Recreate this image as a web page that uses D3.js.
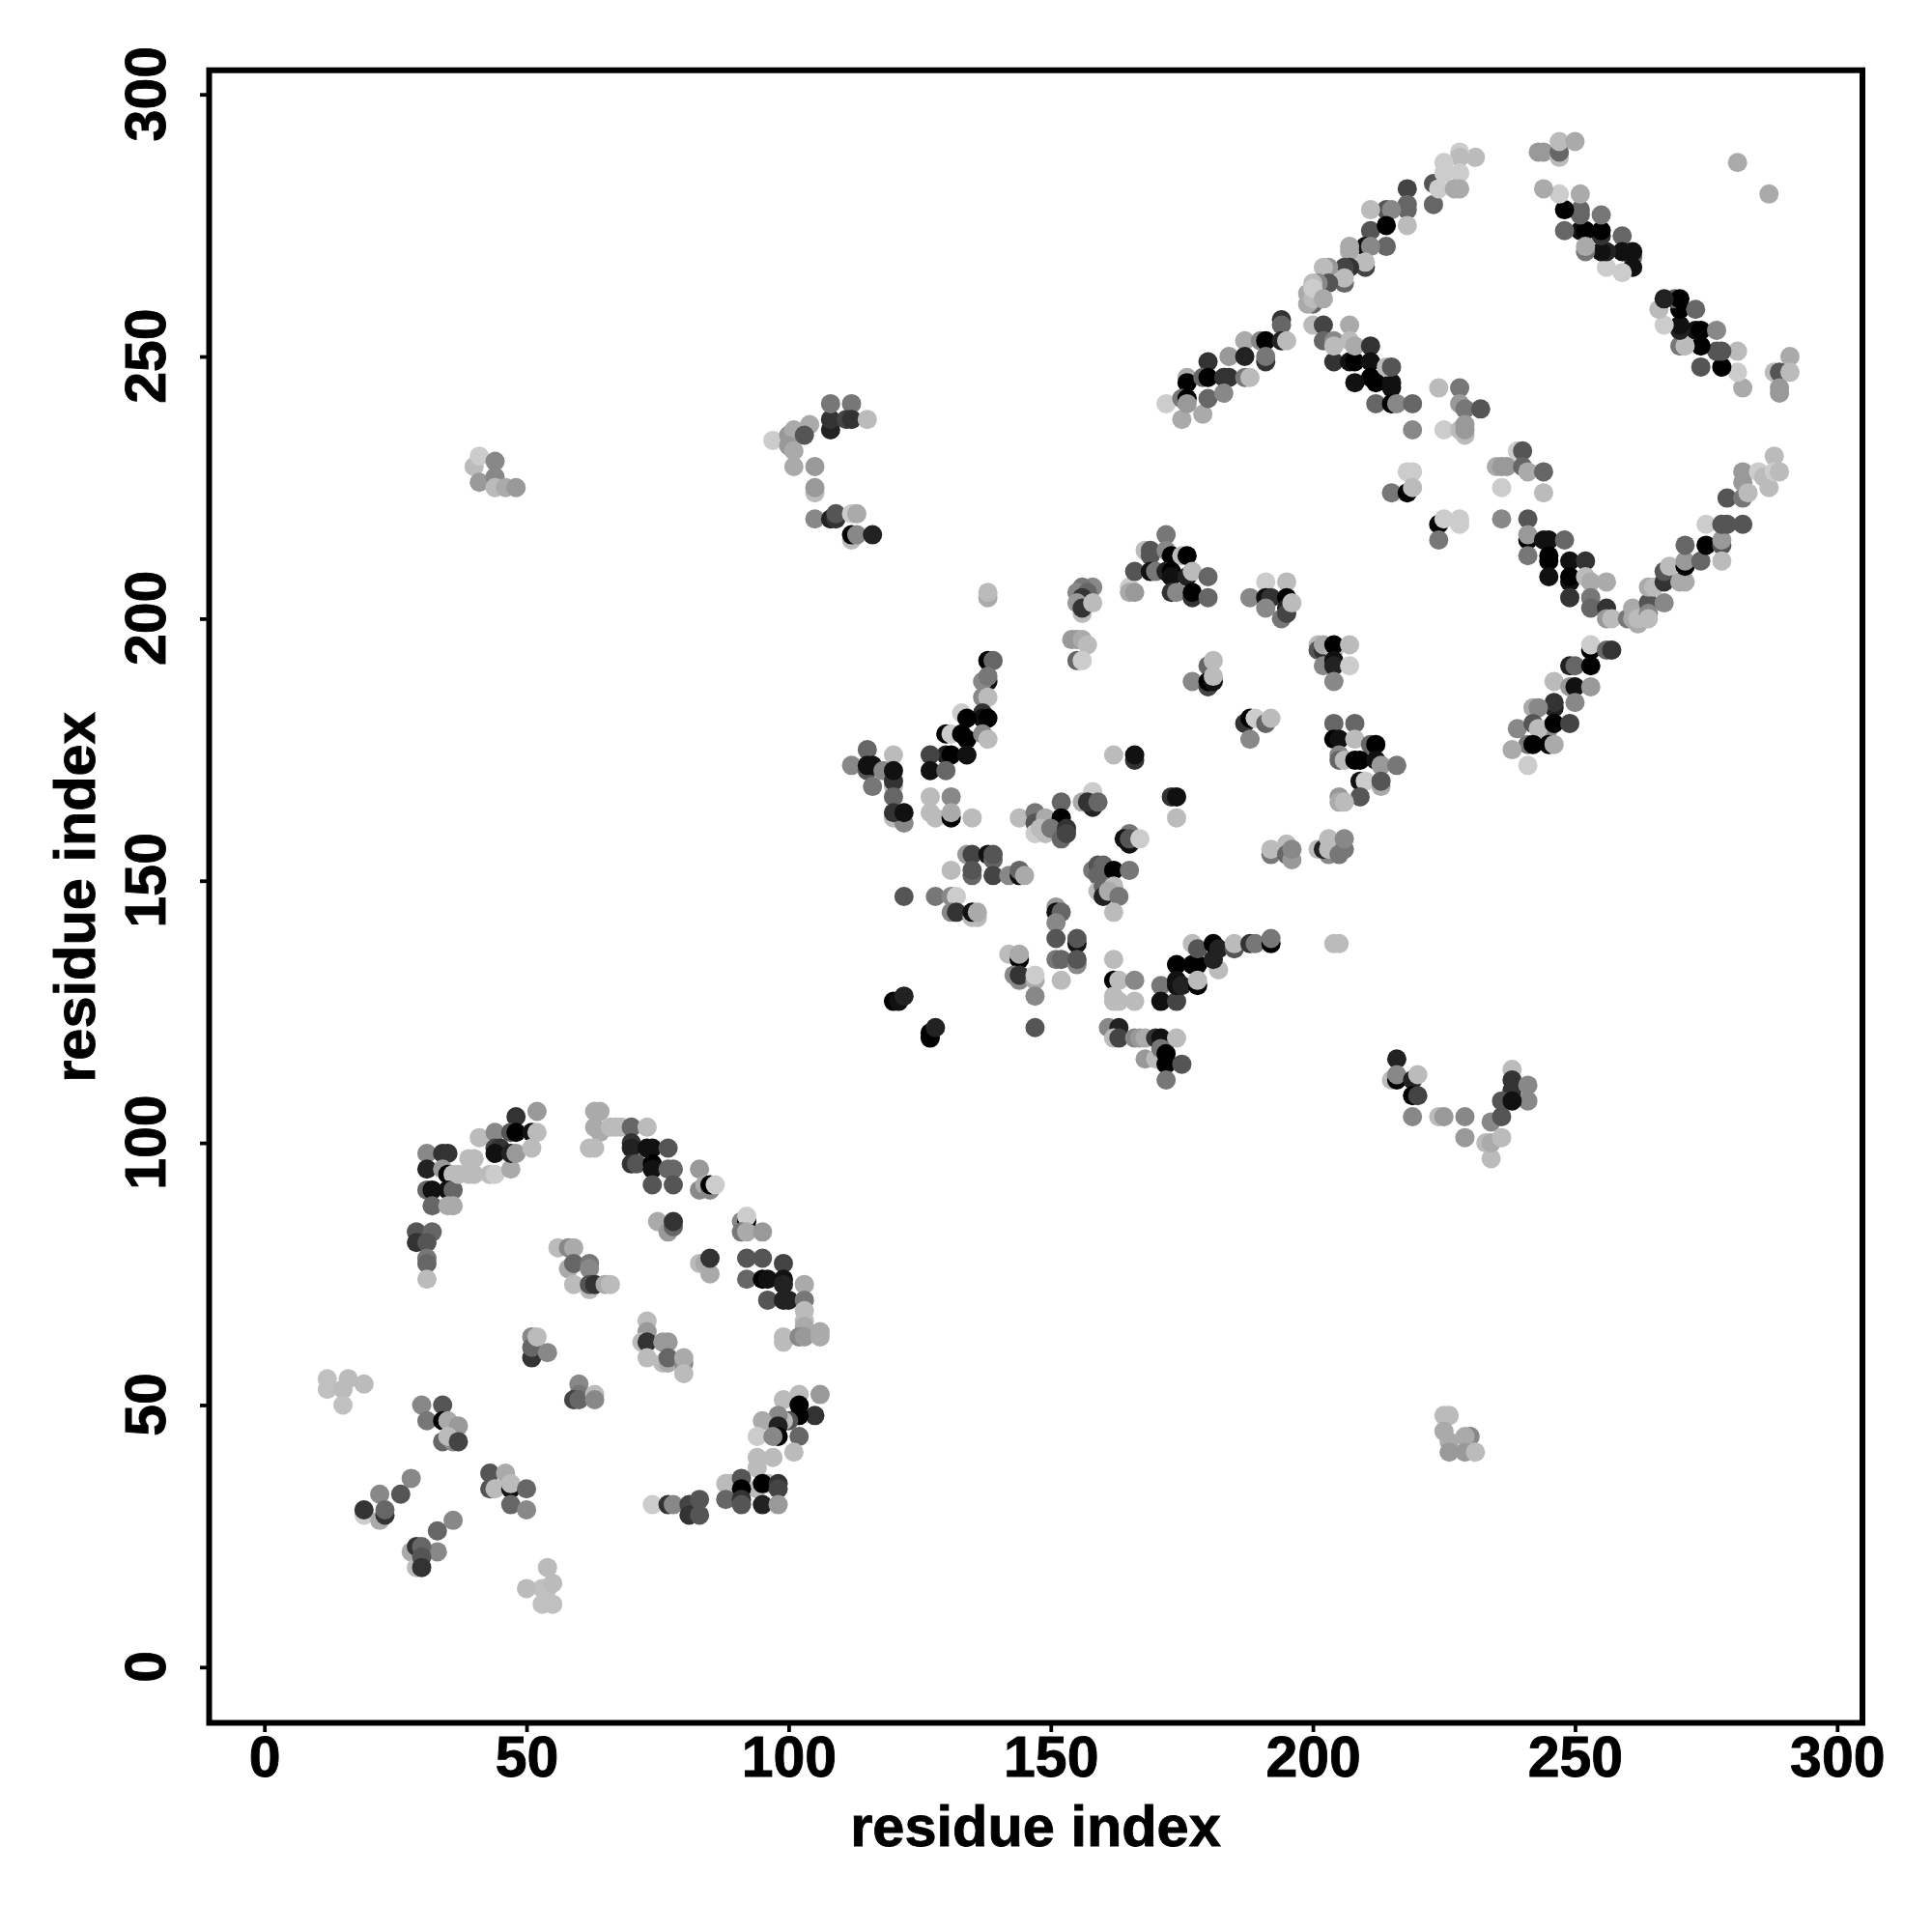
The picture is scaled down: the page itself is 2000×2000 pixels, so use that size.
<!DOCTYPE html>
<html><head><meta charset="utf-8">
<script src="https://cdn.jsdelivr.net/npm/d3@7"></script>
<style>html,body{margin:0;padding:0;background:#fff}</style></head>
<body><svg id="c" width="2000" height="2000"></svg>
<script>
const xTicks=[0,50,100,150,200,250,300];
const yTicks=[0,50,100,150,200,250,300];
const xTitle="residue index", yTitle="residue index";
// each contact: [residue i, residue j, gray level]
const lowerLeft=[
[12,55,0xc0],[12,53,0xc0],[15,53,0xbb],[16,55,0xbb],[19,54,0xbb],[15,50,0xc0],
[30,50,0x88],[34,50,0x55],[31,47,0x77],[34,47,0x00],[35,47,0xaa],[37,46,0x99],[34,43,0x66],[36,43,0x88],[35,44,0xbb],[37,43,0x44],
[43,37,0x55],[46,37,0xaa],[43,34,0x55],[44,34,0xbb],[47,34,0x11],[47,35,0xbb],[50,34,0x66],[47,31,0x66],[50,30,0x88],
[28,36,0x88],[26,33,0x55],[22,33,0x88],[19,29,0xcc],[19,30,0x33],[22,28,0xaa],[23,29,0x33],[23,30,0x66],
[36,28,0x88],[33,26,0x66],[33,22,0x88],[28,22,0xaa],[29,23,0x33],[30,23,0x66],[29,19,0xbb],[30,21,0x55],[30,19,0x33],
[54,19,0xbb],[53,15,0xc0],[50,15,0xbb],[53,12,0xc0],[55,12,0xc0],[54,15,0xc0],[55,16,0xbb],
[51,63,0x88],[51,59,0x33],[51,61,0x66],[52,63,0xbb],[54,60,0x88],
[60,54,0x88],[60,52,0x77],[59,51,0x44],[60,51,0x66],[63,52,0xbb],[63,51,0x88],
[31,98,0x88],[34,98,0x33],[35,98,0x33],[31,95,0x22],[34,95,0x99],[35,94,0x00],[36,94,0xbb],[31,91,0x66],[32,91,0x11],[35,91,0x11],[36,91,0x66],[32,88,0x66],[35,88,0xaa],[36,88,0xaa],[37,94,0xbb],[39,94,0xbb],[40,94,0xbb],[39,97,0xbb],[40,97,0xbb],
[41,101,0xbb],[44,102,0x88],[44,99,0x44],[45,99,0x33],[44,98,0x11],[43,94,0xbb],[44,94,0xcc],[47,95,0xaa],[47,98,0x22],[48,98,0x99],[48,105,0x33],[47,102,0x55],[48,102,0x00],[51,102,0x11],[52,102,0xbb],[52,106,0x99],[51,99,0xbb],
[30,82,0xaa],[29,83,0x55],[32,83,0x66],[29,81,0x33],[31,81,0x55],[31,78,0x77],[31,77,0x66],[31,74,0xbb],
[63,106,0xaa],[64,106,0xaa],[63,103,0xaa],[64,102,0xaa],[66,103,0xbb],[67,103,0xbb],[68,103,0xbb],[70,103,0x66],[73,103,0xbb],[62,99,0xbb],[63,99,0xbb],[70,100,0x33],[70,99,0x22],[73,99,0x11],[74,99,0x11],[77,99,0x55],[70,96,0x33],[71,96,0x55],[74,96,0x00],[74,95,0x11],[77,95,0x66],[78,95,0x66],[74,92,0x55],[78,92,0x55],
[83,95,0x99],[83,91,0x88],[84,92,0xaa],[85,91,0x88],[85,92,0x00],[86,92,0xcc],
[75,85,0xaa],[77,83,0x99],[78,84,0x66],[78,85,0x33],[83,77,0xbb],[84,77,0xaa],[85,75,0xaa],[85,78,0x33],
[56,80,0xbb],[58,80,0x88],[59,80,0xaa],[58,76,0xaa],[59,77,0x66],[62,77,0x77],[62,76,0x88],[59,73,0xbb],[62,72,0xbb],[62,73,0x55],[63,73,0x33],[65,73,0xaa],[66,73,0xbb],
[73,66,0xbb],[73,64,0x99],[72,62,0xbb],[73,62,0x33],[73,59,0xbb],[76,62,0x99],[77,62,0x99],[76,58,0xbb],[77,58,0xaa],[77,59,0x66],[80,58,0x88],[80,59,0xaa],[80,56,0xbb],
[91,85,0x88],[92,85,0x00],[92,86,0xcc],[91,83,0x77],[92,83,0xaa],[95,83,0x99],
[92,78,0x55],[95,78,0x55],[99,77,0x44],[92,74,0x66],[95,74,0x00],[96,74,0x11],[99,74,0x11],[99,73,0x22],[96,70,0x55],[99,70,0x22],[100,70,0x22],[103,73,0xaa],[103,70,0x77],[103,68,0xbb],[103,66,0xbb],[103,65,0xaa],[99,63,0xbb],[99,62,0xbb],[102,63,0x88],[103,63,0x99],[106,64,0xaa],[106,63,0xaa],
[106,52,0x99],[102,52,0xbb],[99,51,0xbb],[102,50,0x00],[105,48,0x33],[102,48,0x00],[100,47,0x55],[99,47,0xbb],[98,48,0x88],[95,47,0xaa],[98,46,0x22],[94,44,0xcc],[98,44,0x00],[97,44,0x88],[102,44,0x66],[101,41,0xbb],[97,40,0xbb],[94,40,0xbb],[94,38,0xbb],
[88,35,0xbb],[89,35,0xbb],[91,36,0x55],[94,34,0xbb],[91,34,0x00],[96,35,0xbb],[95,35,0x00],[98,35,0x33],[98,34,0x44],[88,32,0x66],[91,32,0x33],[91,31,0x55],[95,31,0x22],[98,31,0x99],
[74,31,0xcc],[77,31,0x33],[78,31,0x88],[82,30,0xaa],[81,31,0x44],[81,29,0x33],[83,32,0x55],[83,29,0x55]];
const middle=[
[105,219,0x88],[108,219,0x22],[109,219,0x33],[109,220,0x55],[112,220,0xcc],[113,220,0xaa],[112,215,0xbb],[112,216,0x00],[113,216,0x88],[116,216,0x22],
[138,204,0xaa],[138,205,0xbb],
[158,206,0x88],[156,206,0x77],[155,205,0x88],[157,205,0x66],[156,204,0x33],[155,203,0x99],[156,201,0xbb],[156,202,0x33],[158,203,0xbb],
[154,196,0x99],[155,196,0x99],[156,196,0xaa],[157,195,0xbb],[155,192,0x66],[156,192,0xcc],
[165,206,0xcc],[165,205,0xaa],[166,205,0x99],
[172,216,0x77],[168,213,0xbb],[169,213,0x55],[169,212,0x55],[172,213,0x88],[173,212,0x00],[175,212,0xbb],[176,212,0x00],[166,209,0x55],[169,209,0x11],[170,209,0x77],[172,209,0x22],[173,209,0x00],[173,208,0x11],[176,208,0x22],[177,209,0xbb],[180,208,0x66],[173,205,0x33],[174,205,0x88],[177,204,0x33],[177,205,0x00],[180,204,0x66],
[191,207,0xcc],[195,207,0xbb],[188,204,0x88],[191,204,0x11],[192,204,0x33],[191,202,0x88],[195,204,0x00],[195,202,0x22],[194,200,0x77],[195,201,0x44],[196,203,0xbb],
[201,195,0xbb],[201,194,0x55],[202,194,0x33],[202,195,0xaa],[204,194,0xbb],[204,195,0x00],[207,195,0xbb],[202,191,0x88],[204,192,0x11],[204,191,0x22],[207,191,0xcc],[204,188,0x88],
[180,191,0x66],[181,192,0xbb],[177,188,0x88],[180,187,0x44],[180,188,0x00],[181,188,0x11],[181,189,0xbb],
[187,180,0x33],[188,181,0x00],[189,181,0xcc],[191,180,0x66],[192,181,0xbb],[188,177,0x88],
[204,180,0x66],[208,180,0x66],[204,177,0x00],[205,177,0x11],[208,177,0xbb],[211,176,0x66],[212,176,0x00],[205,174,0x88],[205,173,0x66],[206,173,0xbb],[208,173,0x00],[209,173,0x00],[212,173,0x11],[213,172,0x99],[216,172,0x77],[209,169,0x11],[210,169,0xcc],[213,168,0xaa],[213,169,0x55],[209,166,0x55],[205,166,0x99],[205,165,0xaa],[206,165,0xbb],
[138,192,0x00],[139,192,0x66],[138,188,0x11],[137,188,0x88],[138,189,0x77],[137,185,0x88],[138,185,0xbb],[133,182,0xcc],[137,182,0x33],[137,181,0x11],[138,181,0x00],[134,181,0x00],[130,178,0x00],[131,178,0xcc],[133,178,0x00],[134,177,0x00],[137,178,0x88],[138,177,0xbb],[130,174,0x22],[131,174,0x00],[134,174,0x11],[127,174,0x44],[127,171,0x11],[130,171,0x66],
[115,175,0x66],[112,172,0x88],[115,171,0x55],[115,172,0x11],[116,172,0x11],[120,174,0xbb],[118,171,0x88],[116,168,0x77],[120,168,0xbb],[120,169,0x33],[120,171,0x11],[120,166,0x66],[120,162,0xbb],[122,161,0x88],[120,163,0x33],[122,163,0x11],
[127,166,0xbb],[131,166,0x88],[127,163,0xbb],[128,162,0xbb],[131,162,0x00],[131,163,0xaa],[135,162,0xbb],
[144,162,0xbb],[147,163,0x77],[147,161,0x55],[149,162,0xaa],[147,159,0xcc],[148,160,0xbb],[149,159,0xbb],[152,165,0x66],[152,162,0x00],[150,160,0x77],[152,158,0x66],[153,160,0x33],[153,159,0x44],
[158,167,0xcc],[156,165,0xaa],[158,164,0x22],[157,165,0x33],[159,165,0x66],
[162,174,0xbb],[166,173,0x33],[166,174,0x11],
[173,166,0x33],[174,166,0x11],[174,162,0xbb],
[165,159,0x77],[164,158,0x11],[165,157,0x11],[165,158,0x55],[167,158,0xcc],
[134,155,0x99],[135,155,0x44],[135,151,0x66],[135,152,0x55],[138,155,0x11],[139,154,0x66],[139,155,0x55],[139,151,0x44],[131,152,0xbb],[142,151,0x88],[144,151,0x11],[144,152,0x66],[145,151,0xaa],
[158,152,0x77],[159,153,0x55],[160,153,0x66],[159,151,0x66],[162,152,0x00],[165,152,0x77],[159,148,0xbb],[160,149,0x66],[162,149,0xbb],[160,147,0x22],[161,148,0xaa],[163,147,0x77],[162,144,0xbb],
[122,147,0x55],[128,147,0x77],[131,147,0x88],[132,147,0xcc],[131,144,0x88],[132,144,0x33],[135,143,0xbb],[136,143,0xbb],[135,144,0x11],[136,144,0xaa],
[151,145,0x99],[151,144,0x11],[152,144,0x66],[151,142,0x88],[151,139,0x55],[155,138,0x11],[155,139,0x55],[151,135,0x77],[152,135,0x66],[155,134,0x88],[155,135,0x55],[152,131,0xbb],
[142,136,0xbb],[144,135,0x00],[144,136,0xaa],[143,132,0x88],[144,131,0x88],[144,132,0x33],[147,131,0xaa],[147,132,0xcc],[147,128,0x88],[147,122,0x55],
[162,135,0xbb],[162,131,0x00],[163,131,0xbb],[166,131,0x88],[162,128,0xbb],[162,127,0xbb],[163,127,0xbb],[166,127,0xbb],
[171,130,0x77],[171,127,0x11],[174,127,0x44],[174,134,0x00],[174,131,0x11],[174,130,0x11],[175,130,0x22],[177,134,0x00],[178,134,0x00],[178,130,0x00],[178,131,0xbb],[182,133,0xbb],[181,135,0x22],[177,138,0xbb],[178,137,0x55],[181,138,0x00],[182,137,0x22],[185,137,0x55],[185,138,0xbb],[188,138,0x33],[189,138,0x77],[192,138,0x00],[192,139,0x77],
[204,138,0xbb],[205,138,0xbb],
[192,155,0x77],[192,156,0xbb],[195,157,0xbb],[195,155,0x66],[196,154,0x99],[196,156,0x88],
[201,156,0xbb],[203,155,0x88],[202,156,0x22],[203,158,0xbb],[203,156,0xbb],[205,155,0x77],[206,156,0x77],[206,158,0x88],
[161,122,0x88],[163,122,0x22],[162,120,0xbb],[163,120,0x44],[166,120,0x88],[167,120,0x99],[168,120,0xaa],[170,120,0x33],[171,120,0x11],[174,120,0xbb],[168,116,0x99],[170,116,0xbb],[171,118,0x77],[172,117,0x00],[172,115,0x00],[175,115,0x55],[172,112,0x77],
[120,127,0x00],[121,127,0x11],[122,128,0x22],[127,120,0x00],[127,121,0x00],[128,122,0x22],
[216,116,0x22],[215,112,0xbb],[216,112,0x00],[216,113,0x88],[219,112,0x22],[220,113,0xbb],[219,109,0x00],[220,109,0x44],[219,105,0x88],[224,105,0xbb],[225,105,0x99],
[229,105,0x88],[229,101,0x99],[233,100,0xbb],[234,97,0xbb],[234,104,0x88],[236,105,0x55],[234,100,0xaa],[236,101,0xbb],[238,114,0xbb],[238,112,0x33],[238,110,0x33],[236,108,0x55],[241,111,0x88],[241,108,0x88],[238,108,0x11],
[225,48,0xbb],[226,48,0xbb],[225,45,0xaa],[226,43,0xaa],[226,41,0x99],[230,44,0x88],[229,44,0xaa],[229,41,0x99],[231,41,0xbb],
[40,229,0xbb],[41,231,0xcc],[41,226,0x99],[44,230,0x88],[44,227,0x88],[44,225,0xbb],[46,225,0xaa],[48,225,0x99],
[97,234,0xcc],[100,235,0x99],[101,236,0xaa],[100,233,0x99],[101,232,0xaa],[101,229,0xaa],[105,229,0x99],[105,224,0xbb],[105,225,0x99],[104,237,0xaa],[103,235,0x55],[108,236,0x22],[108,238,0x33],[108,241,0x77],[112,241,0x77],[111,238,0x44],[112,238,0x33],[115,238,0xbb]];
const upperRight=[
[172,241,0xcc],[175,238,0xaa],[176,246,0xaa],[176,245,0x00],[175,242,0x77],[176,242,0x00],[176,241,0x99],[179,239,0xaa],[180,249,0x33],[179,246,0x66],[180,246,0x00],[180,242,0x66],[183,246,0x33],[184,246,0x33],[183,243,0x88],[184,250,0x99],[187,253,0xaa],[187,250,0x22],[187,246,0x77],[188,246,0xbb],[190,253,0x88],[191,253,0x00],[191,249,0x33],[191,250,0x77],[194,257,0x33],[194,256,0x66],[194,253,0x22],[195,253,0xbb],
[200,256,0xbb],[202,256,0x44],[202,253,0x66],[204,253,0x88],[207,256,0xaa],[204,249,0x33],[204,252,0xbb],[207,249,0x11],[208,249,0x00],[207,253,0xbb],[208,252,0xaa],[211,252,0x33],[211,249,0x11],[211,246,0x00],[208,245,0x11],[212,245,0x00],[215,244,0x11],[215,245,0x11],[214,248,0xbb],[215,248,0x55],[212,241,0x66],[215,241,0x00],[216,241,0x88],[219,241,0x66],[219,236,0x88],
[224,244,0xbb],[228,244,0x77],[228,241,0x99],[229,240,0x77],[232,240,0x55],[225,236,0xcc],[228,236,0xbb],[229,235,0xbb],[229,236,0x99],[229,237,0x99],
[218,228,0xcc],[219,228,0xcc],[215,224,0x77],[218,224,0x00],[219,225,0xbb],
[224,218,0x00],[225,219,0xcc],[228,218,0xcc],[228,219,0xcc],[224,215,0x77],
[235,229,0xaa],[236,229,0x99],[237,229,0x99],[239,232,0xcc],[240,232,0x55],[240,229,0x66],[241,228,0xaa],[244,228,0x66],[236,225,0xcc],[244,224,0xbb],[236,219,0x88],[241,219,0x55],
[241,215,0x00],[241,216,0x99],[244,215,0x11],[245,215,0x11],[248,215,0x66],[241,212,0x77],[245,212,0x00],[245,211,0x00],[249,211,0x11],[252,211,0x33],[245,208,0x11],[249,207,0x11],[249,208,0x00],[252,208,0xbb],[253,207,0xaa],[256,207,0xaa],[249,204,0x33],[253,204,0x77],[253,202,0x66],[256,202,0x33],[256,200,0x99],[257,200,0xbb],
[260,200,0x77],[261,202,0xaa],[261,200,0xaa],[262,199,0xaa],[262,200,0xbb],[264,203,0x55],[264,201,0x88],[264,200,0xbb],[267,203,0x88],[264,206,0xaa],[265,206,0xbb],[267,207,0x33],[267,209,0x55],[268,210,0xbb],[270,207,0xaa],[271,207,0xaa],[271,210,0x00],[271,211,0x99],[271,214,0x66],[274,211,0x66],[275,214,0x00],[278,214,0x55],[278,215,0x99],[278,211,0xbb],[275,218,0xcc],[278,218,0x55],[279,218,0x55],[282,218,0x55],[279,223,0x55],[282,223,0x77],[282,226,0x99],[282,228,0x99],[283,224,0xbb],[285,228,0xcc],[286,227,0xbb],[287,225,0xbb],[288,231,0xbb],[288,228,0xcc],[289,228,0xbb],
[291,250,0xaa],[288,247,0xbb],[289,247,0x55],[291,247,0xbb],[289,243,0x99],[289,244,0x99],
[282,244,0xaa],[281,247,0xcc],[281,251,0xbb],[278,248,0x00],[274,248,0x55],[277,251,0x55],[278,251,0x55],[274,252,0x00],[273,255,0x11],[274,255,0x00],[277,255,0x88],[270,252,0x77],[271,252,0xbb],[270,255,0x22],[270,256,0x11],[267,256,0xcc],[266,259,0xbb],[270,259,0x00],[273,259,0x66],[269,261,0x66],[270,261,0x00],[267,261,0x22],
[261,269,0x66],[261,267,0x11],[261,270,0x11],[259,266,0xcc],[256,267,0xcc],[259,273,0x66],[259,270,0x11],[256,270,0x22],[255,270,0x11],[255,273,0x33],[255,274,0x00],[255,277,0x77],[251,274,0x11],[252,274,0x00],[251,278,0x66],[251,277,0x66],[248,278,0x00],[248,274,0x66],[252,270,0x77],[252,271,0xaa],[251,281,0xaa],[247,281,0xcc],[244,282,0xaa],
[243,289,0x99],[244,289,0x99],[247,288,0xbb],[247,289,0x66],[247,291,0xbb],[250,291,0xaa],
[281,287,0xaa],[287,281,0xaa],
[223,283,0x55],[223,279,0x66],[231,288,0xbb],[228,289,0xcc],[228,288,0xbb],[225,287,0xcc],[228,285,0xcc],[225,285,0xcc],[224,282,0xcc],[227,282,0xaa],[228,282,0xaa],
[218,282,0x44],[218,278,0x66],[218,279,0x66],[218,275,0xbb],[214,278,0x55],[215,278,0x88],[211,278,0xbb],[211,274,0x55],[214,275,0x00],[214,271,0x66],[210,271,0x11],[211,271,0x88],[207,270,0xaa],[207,271,0xaa],[210,267,0x44],[210,268,0xbb],[207,267,0x33],[206,267,0x44],[203,267,0x99],[202,267,0xbb],[206,264,0x66],[206,265,0xbb],[203,264,0x55],[201,264,0x88],[200,264,0xbb],[199,262,0xaa],[200,260,0x66],[199,260,0xaa],[200,261,0xbb],[200,263,0xcc],[202,261,0xaa],
[253,194,0x00],[253,195,0xcc],[256,194,0x66],[257,194,0x33],[249,191,0x22],[250,191,0x66],[253,191,0x00],[246,188,0xbb],[249,187,0x99],[250,187,0x11],[253,187,0x99],[250,184,0x88],[246,183,0x22],[246,184,0x33],[242,183,0xaa],[243,183,0x88],[239,179,0x88],[242,180,0x55],[245,179,0x88],[243,179,0xbb],[246,180,0x00],[249,180,0x44],[241,176,0x77],[242,176,0x00],[245,176,0x00],[246,176,0xaa],[238,175,0xaa],[241,172,0xcc]];

const svg=d3.select("#c");
const font="'Liberation Sans',Arial,sans-serif";
const x=d3.scaleLinear().domain([0,300]).range([273.7,1901.8]);
const y=d3.scaleLinear().domain([0,300]).range([1725.8,97.7]);
const left=216.5,right=1928,top_=72.7,bottom=1783.5;

svg.append("g").selectAll("circle").data([...lowerLeft,...middle,...upperRight]).join("circle")
  .attr("cx",d=>x(d[0])).attr("cy",d=>y(d[1])).attr("r",10)
  .attr("fill",d=>d3.rgb(d[2],d[2],d[2]).formatHex());

svg.append("rect").attr("x",left).attr("y",top_).attr("width",right-left).attr("height",bottom-top_)
  .attr("fill","none").attr("stroke","#000").attr("stroke-width",6);

const gx=svg.append("g").attr("transform",`translate(0,${bottom})`)
  .call(d3.axisBottom(x).tickValues(xTicks).tickSize(9.5).tickFormat(d3.format("d")));
const gy=svg.append("g").attr("transform",`translate(${left},0)`)
  .call(d3.axisLeft(y).tickValues(yTicks).tickSize(9.5).tickFormat(d3.format("d")));
[gx,gy].forEach(g=>{g.select(".domain").remove();g.selectAll("line").attr("stroke","#000").attr("stroke-width",3.8);});
const heavy=s=>s.attr("font-family",font).attr("font-weight","bold").attr("fill","#000").attr("stroke","#000").attr("stroke-width",0.9);
heavy(gx.selectAll("text").attr("y",null).attr("dy",null).attr("transform","translate(0,55)")
  .attr("text-anchor","middle").attr("font-size",59));
heavy(gy.selectAll("text").attr("x",null).attr("dy",null).attr("transform","translate(-46,-1) rotate(-90)")
  .attr("text-anchor","middle").attr("font-size",59));

heavy(svg.append("text").attr("x",1072).attr("y",1911).attr("text-anchor","middle")
  .attr("font-size",59.5).text(xTitle));
heavy(svg.append("text").attr("transform","translate(98,929) rotate(-90)").attr("text-anchor","middle")
  .attr("font-size",59.5).text(yTitle));
</script></body></html>
